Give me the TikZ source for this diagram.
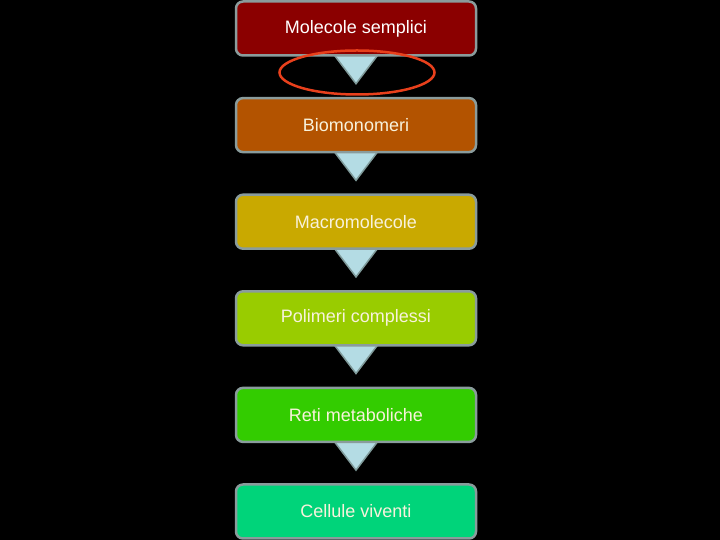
\documentclass[tikz,border=0pt]{standalone}
\usepackage{fontspec}
\setmainfont{Liberation Sans}
\usetikzlibrary{calc,shapes.geometric,backgrounds}
\definecolor{c1}{HTML}{8B0000}
\definecolor{c2}{HTML}{B35300}
\definecolor{c3}{HTML}{C9A900}
\definecolor{c4}{HTML}{99CC00}
\definecolor{c5}{HTML}{33CC00}
\definecolor{c6}{HTML}{00D47A}
\definecolor{bord}{HTML}{8A9C9C}
\definecolor{tri}{HTML}{B4DCE4}
\definecolor{tribord}{HTML}{7F9A9A}
\definecolor{txt}{HTML}{F8F2DC}
\definecolor{ell}{HTML}{E8401C}
\tikzset{
  stage/.style={draw=bord, line width=2.5pt, rounded corners=7pt, minimum width=240pt, minimum height=54pt, inner sep=0pt, text=txt, font=\fontsize{18}{21}\selectfont},
  tribox/.style={fill=tri, draw=tribord, line width=1.5pt, line join=miter},
  mark ellipse/.style={ellipse, draw=ell, line width=2.5pt, minimum width=155pt, minimum height=44pt, inner sep=0pt}
}
\begin{document}
\begin{tikzpicture}[x=1pt,y=1pt]
\useasboundingbox (0,0) rectangle (720,540);
\node[stage, fill=c1, text=white] (b1) at (356,540-28.5) {Molecole semplici};
\node[stage, fill=c2] (b2) at (356,540-125.1) {Biomonomeri};
\node[stage, fill=c3] (b3) at (356,540-221.7) {Macromolecole};
\node[stage, fill=c4] (b4) at (356,540-318.3) {Polimeri complessi};
\node[stage, fill=c5] (b5) at (356,540-414.9) {Reti metaboliche};
\node[stage, fill=c6] (b6) at (356,540-511.5) {Cellule viventi};
\begin{pgfonlayer}{background}
\fill[black] (0,0) rectangle (720,540);
\foreach \a/\b in {b1/b2,b2/b3,b3/b4,b4/b5,b5/b6}{
  \draw[tribox] ($(\a.south)+(-22,2)$) -- ($(\a.south)+(22,2)$) -- ($(\a.south)+(0,-27)$) -- cycle;
}
\end{pgfonlayer}
\node[mark ellipse] (e1) at (357,540-72.5) {};
\end{tikzpicture}
\end{document}
